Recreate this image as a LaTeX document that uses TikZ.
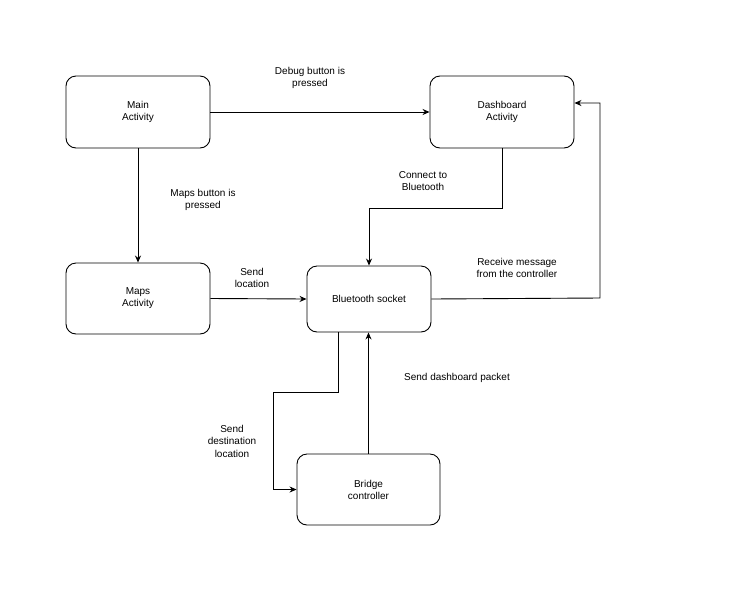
\documentclass[tikz,border=0pt]{standalone}
\usepackage{fontspec}
\setmainfont{Liberation Sans}
\usetikzlibrary{arrows.meta}
\begin{document}
\begin{tikzpicture}[x=1pt,y=-1pt,
  box/.style={draw,rounded corners=10pt,line width=0.9pt,align=center,font=\fontsize{10}{12}\selectfont,inner sep=0pt},
  lbl/.style={align=center,font=\fontsize{10}{12.5}\selectfont},
  arr/.style={draw,line width=0.9pt,-{Stealth[length=7pt,width=6pt]}}]
\useasboundingbox (0,0) rectangle (738,600);
\node[box,minimum width=144pt,minimum height=72pt] (main) at (138,112) {Main\\Activity};
\node[box,minimum width=144pt,minimum height=72pt] (dash) at (502,112) {Dashboard\\Activity};
\node[box,minimum width=144pt,minimum height=71pt] (maps) at (138,298.5) {Maps\\Activity};
\node[box,minimum width=124pt,minimum height=66pt] (bt) at (369,299) {Bluetooth socket};
\node[box,minimum width=143pt,minimum height=71pt] (bridge) at (368.5,489.5) {Bridge\\controller};
\coordinate (c1) at (600,298);
\draw[arr] (main.east) -- (dash.west);
\draw[arr] (main.south) -- (maps.north);
\draw[arr] (maps.east) -- (bt.west);
\draw[arr] (dash.south) -- ++(0,60) -| (bt.north);
\draw[arr] (bt.east) -- (c1) |- (dash.east |- 0,103);
\draw[arr] (bt.south -| 338,0) -- (338,392) -- (273,392) |- (bridge.west);
\draw[arr] (bridge.north) -- (bt.south -| bridge.north);
\node[lbl] (l1) at (310,78) {Debug button is\\pressed};
\node[lbl] (l2) at (203,200) {Maps button is\\pressed};
\node[lbl] (l3) at (423,181) {Connect to\\Bluetooth};
\node[lbl] (l4) at (252,278) {Send\\location};
\node[lbl] (l5) at (517,268) {Receive message\\from the controller};
\node[lbl] (l6) at (457,378) {Send dashboard packet};
\node[lbl] (l7) at (232,441) {Send\\destination\\location};
\end{tikzpicture}
\end{document}
